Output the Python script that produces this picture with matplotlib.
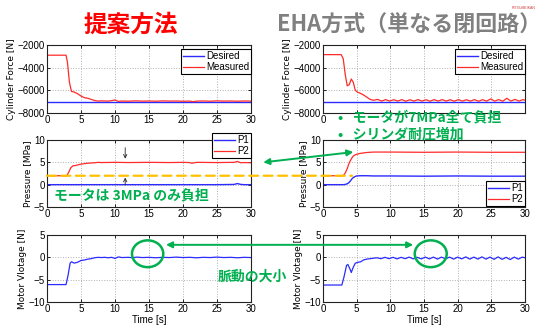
import numpy as np
import matplotlib
matplotlib.use("Agg")
import matplotlib.pyplot as plt
from matplotlib.patches import ConnectionPatch, Ellipse

# ---- data ----
# 提案方法 (left column)
t_force_l = [0, 2.8, 3.0, 3.3, 3.6, 4.0, 4.5, 5.0, 5.5, 6.0, 6.5, 7.0, 7.5, 8.0, 9.0, 9.6, 10.0,
             10.5, 11.0, 12.0, 13.0, 14.0, 15.0, 16.0, 17.0, 18.0, 19.0, 20.0, 21.0, 21.5, 22.0,
             23.0, 24.0, 25.0, 26.0, 27.0, 28.0, 29.0, 30.0]
force_meas_l = [-2900, -2900, -3500, -5300, -6100, -6150, -6300, -6500, -6650, -6700, -6800, -6900,
                -6950, -6930, -6950, -6900, -6850, -6980, -6940, -6960, -6930, -6950, -6940, -6960,
                -6930, -6950, -6940, -6960, -6950, -7000, -6950, -6940, -6960, -6930, -6950, -6940,
                -6960, -6940, -6950]
force_des = -7000

t_pres_l = [0, 2.9, 3.2, 3.5, 3.8, 4.2, 5.0, 6.0, 7.0, 7.5, 8.0, 10.0, 12.0, 15.0, 18.0, 20.0,
            21.0, 21.3, 22.0, 25.0, 27.5, 28.0, 28.5, 29.0, 30.0]
p2_l = [2.0, 2.0, 2.8, 3.8, 4.2, 4.3, 4.6, 4.8, 4.9, 5.0, 4.95, 5.0, 4.95, 5.0, 4.95, 5.0,
        4.95, 4.8, 5.0, 4.95, 5.0, 5.2, 4.9, 4.95, 4.9]
p1_l = [0.0, 0.0, 0.0, 0.0, 0.0, 0.0, 0.0, 0.0, 0.0, 0.0, 0.0, 0.0, 0.0, 0.0, 0.0, 0.0,
        0.0, 0.0, 0.0, 0.0, 0.05, 0.25, 0.05, 0.0, 0.0]

t_volt_l = [0, 2.8, 3.1, 3.4, 3.6, 4.0, 4.5, 5.0, 5.5, 6.0, 6.5, 7.0, 7.5, 8.0, 8.5, 9.0, 9.5,
            10.0, 10.5, 11.0, 12.0, 12.6, 13.2, 14.0, 15.0, 16.0, 17.0, 18.0, 19.0, 20.0, 21.0,
            22.0, 23.0, 24.0, 25.0, 26.0, 27.0, 28.0, 29.0, 30.0]
volt_l = [-6.1, -6.1, -4.0, -1.3, -1.0, -1.3, -1.1, -0.7, -0.6, -0.4, -0.3, -0.1, 0.0, -0.05,
          0.0, -0.1, 0.0, -0.25, 0.1, -0.05, 0.0, -0.1, 0.05, -0.05, 0.0, -0.1, 0.0, -0.05,
          0.05, -0.05, 0.0, -0.1, 0.0, -0.05, 0.05, -0.05, 0.0, -0.1, 0.0, -0.05]

# EHA方式 (right column)
t_force_r = [0, 2.7, 3.0, 3.3, 3.6, 3.9, 4.2, 4.5, 4.8, 5.1, 5.5, 6.0, 6.5, 7.0, 7.5,
             8.1, 8.7, 9.3, 9.9, 10.5, 11.1, 11.7, 12.3, 12.9, 13.5, 14.1, 14.7, 15.3, 15.9,
             16.5, 17.1, 17.7, 18.3, 18.9, 19.5, 20.1, 20.7, 21.3, 21.9, 22.5, 23.1, 23.7,
             24.3, 24.9, 25.5, 26.1, 26.7, 27.3, 27.9, 28.5, 29.1, 29.7, 30.0]
force_meas_r = [-2850, -2850, -3200, -4600, -5600, -5500, -5000, -5300, -6000, -6150, -6250,
                -6400, -6600, -6800, -6880, -6800, -6950, -6820, -6950, -6830, -6950, -6820,
                -6960, -6830, -6950, -6820, -6950, -6830, -6960, -6820, -6950, -6820, -6950,
                -6830, -6960, -6820, -6950, -6830, -6950, -6820, -6960, -6830, -6950, -6760,
                -6950, -6820, -6960, -6700, -6950, -6800, -6950, -6820, -6870]

t_pres_r = [0, 3.0, 3.3, 3.6, 3.8, 4.0, 4.3, 4.5, 4.8, 5.0, 5.5, 6.5, 7.5, 10.0, 15.0, 20.0,
            25.0, 30.0]
p2_r = [2.0, 2.0, 2.6, 3.6, 4.5, 5.2, 6.0, 6.4, 6.7, 6.8, 7.0, 7.2, 7.3, 7.3, 7.25, 7.3,
        7.25, 7.25]
p1_r = [0.0, 0.0, 0.05, 0.2, 0.4, 0.7, 1.3, 1.6, 1.85, 1.95, 2.0, 2.0, 1.95, 1.95, 1.9, 1.95,
        1.9, 1.9]

t_volt_r = [0, 2.8, 3.1, 3.5, 3.7, 4.0, 4.2, 4.5, 4.8, 5.2, 5.6, 6.0, 6.5, 7.0, 7.5, 8.0,
            8.6, 9.2, 9.8, 10.4, 11.0, 11.6, 12.2, 12.8, 13.4, 14.0, 14.6, 15.2, 15.8, 16.4,
            17.0, 17.6, 18.2, 18.8, 19.4, 20.0, 20.6, 21.2, 21.8, 22.4, 23.0, 23.6, 24.2,
            24.8, 25.4, 26.0, 26.6, 27.2, 27.8, 28.4, 29.0, 29.6, 30.0]
volt_r = [-6.2, -6.2, -4.5, -1.8, -1.6, -2.6, -3.4, -2.2, -1.3, -1.1, -1.0, -0.6, -0.4, -0.3,
          -0.2, -0.1, -0.3, 0.0, -0.3, 0.0, -0.35, 0.0, -0.3, 0.05, -0.35, 0.0, -0.35, 0.05,
          -0.35, 0.05, -0.4, 0.05, -0.35, 0.05, -0.4, 0.05, -0.35, 0.1, -0.4, 0.05, -0.4,
          0.1, -0.4, 0.05, -0.45, 0.1, -0.45, 0.0, -0.5, 0.05, -0.4, 0.05, -0.1]

x_ticks = [0, 5, 10, 15, 20, 25, 30]
force_ticks = [-8000, -6000, -4000, -2000]
pres_ticks = [-5, 0, 5, 10]
volt_ticks = [-10, -5, 0, 5]

# ---- style ----
JP = ['Noto Sans CJK JP', 'DejaVu Sans']
plt.rcParams['font.family'] = ['Liberation Sans', 'DejaVu Sans']
plt.rcParams['font.size'] = 7
BLUE = '#2b2bff'
RED = '#ff2a2a'
GREEN = '#00b050'
ORANGE = '#ffc000'

W, H = 542, 327
fig = plt.figure(figsize=(W / 100, H / 100), dpi=100)
fig.patch.set_facecolor('white')


def box(x0, y0, x1, y1):
    return [x0 / W, 1 - y1 / H, (x1 - x0) / W, (y1 - y0) / H]


def fx(x, y):
    return x / W, 1 - y / H


def style(ax, yticks, ylabel, xlabel=None):
    ax.set_xlim(0, 30)
    ax.set_ylim(yticks[0], yticks[-1])
    ax.set_xticks(x_ticks)
    ax.set_yticks(yticks)
    ax.grid(True, color='#b0b0b0', linestyle=':', linewidth=0.7)
    ax.tick_params(direction='in', length=2.5, width=0.6, labelsize=7, pad=1.5,
                   top=True, right=True)
    for s in ax.spines.values():
        s.set_linewidth(0.8)
        s.set_color('#222222')
    ax.set_ylabel(ylabel, fontsize=6.5, family='DejaVu Sans', labelpad=1)
    if xlabel:
        ax.set_xlabel(xlabel, fontsize=7, labelpad=0.5)


def legend(ax, loc, anchor):
    lg = ax.legend(loc=loc, bbox_to_anchor=anchor, borderaxespad=0, fontsize=7,
                   frameon=True, fancybox=False, framealpha=1, edgecolor='black',
                   handlelength=2.2, handletextpad=0.2, borderpad=0.2, labelspacing=0.1)
    lg.get_frame().set_linewidth(0.8)
    return lg


axes = {}
for col, (x0, x1) in {'l': (47, 251), 'r': (323, 525)}.items():
    axes[col + 'f'] = fig.add_axes(box(x0, 45, x1, 113))
    axes[col + 'p'] = fig.add_axes(box(x0, 140, x1, 207))
    axes[col + 'v'] = fig.add_axes(box(x0, 235, x1, 302))

# cylinder force
for col, t, m in [('l', t_force_l, force_meas_l), ('r', t_force_r, force_meas_r)]:
    ax = axes[col + 'f']
    ax.plot([0, 30], [force_des, force_des], color=BLUE, lw=1.0, label='Desired')
    ax.plot(t, m, color=RED, lw=0.9, label='Measured')
    style(ax, force_ticks, 'Cylinder Force [N]')
    legend(ax, 'upper right', (1.0, 0.94))
# the bullet text covers the x tick labels of the right force plot
axes['rf'].set_xticklabels(['0', '', '', '', '', '', ''])

# pressure
for col, t, p1, p2 in [('l', t_pres_l, p1_l, p2_l), ('r', t_pres_r, p1_r, p2_r)]:
    ax = axes[col + 'p']
    ax.plot(t, p1, color=BLUE, lw=1.0, label='P1')
    ax.plot(t, p2, color=RED, lw=0.9, label='P2')
    style(ax, pres_ticks, 'Pressure [MPa]')
legend(axes['lp'], 'upper right', (1.0, 1.10))
legend(axes['rp'], 'lower right', (1.0, 0.015))

# motor voltage
for col, t, v in [('l', t_volt_l, volt_l), ('r', t_volt_r, volt_r)]:
    ax = axes[col + 'v']
    ax.plot(t, v, color=BLUE, lw=0.9)
    style(ax, volt_ticks, 'Motor Vlotage [N]', 'Time [s]')

# ---- titles ----
fig.text(*fx(131, 25), '提案方法', color='#ff0000', fontsize=17, fontweight='bold',
         family=JP, ha='center', va='center')
fig.text(*fx(409, 25), 'EHA方式（単なる閉回路）', color='#808080', fontsize=15.8,
         fontweight='bold', family=JP, ha='center', va='center')
fig.text(*fx(524, 8), 'RITSUMEIKAN', color='#d04040', fontsize=2.5, ha='center', va='center')

# ---- annotations ----
lp, rp, lv, rv = axes['lp'], axes['rp'], axes['lv'], axes['rv']

# 2 MPa dashed line across both columns
fig.add_artist(ConnectionPatch((0, 2), (4.3, 2), coordsA=lp.transData, coordsB=rp.transData,
                               color=ORANGE, lw=1.6, linestyle=(0, (4, 2.5)), zorder=1))

# small black arrows marking 3 MPa
lp.annotate('', xy=(11.5, 5.2), xytext=(11.5, 8.9),
            arrowprops=dict(arrowstyle='->', color='#222222', lw=0.6, mutation_scale=6))
lp.annotate('', xy=(11.5, 2.2), xytext=(11.5, -0.7),
            arrowprops=dict(arrowstyle='->', color='#222222', lw=0.6, mutation_scale=6))

# green double arrows
fig.add_artist(ConnectionPatch((31.8, 5.0), (4.5, 7.3), coordsA=lp.transData,
                               coordsB=rp.transData, arrowstyle='<|-|>', color=GREEN, lw=1.4,
                               mutation_scale=9, zorder=5))
fig.add_artist(ConnectionPatch((17.5, 2.8), (13.4, 2.8), coordsA=lv.transData,
                               coordsB=rv.transData, arrowstyle='<|-|>', color=GREEN, lw=1.4,
                               mutation_scale=9, zorder=5))

# circles around the ripple
lv.add_patch(Ellipse((14.8, 0.8), 4.6, 6.0, fill=False, edgecolor=GREEN, lw=1.8,
                     clip_on=False, zorder=6))
rv.add_patch(Ellipse((16.0, 0.8), 4.75, 6.0, fill=False, edgecolor=GREEN, lw=1.8,
                     clip_on=False, zorder=6))

fig.text(*fx(54, 195), 'モータは 3MPa のみ負担', color=GREEN, fontsize=10, fontweight='bold',
         family=JP, ha='left', va='center')
fig.text(*fx(338, 117), '•   モータが7MPa全て負担', color=GREEN, fontsize=10,
         fontweight='bold', family=JP, ha='left', va='center')
fig.text(*fx(338, 134), '•   シリンダ耐圧増加', color=GREEN, fontsize=10,
         fontweight='bold', family=JP, ha='left', va='center')
fig.text(*fx(218, 277), '脈動の大小', color=GREEN, fontsize=10, fontweight='bold',
         family=JP, ha='left', va='center')

fig.savefig('out.png', dpi=100)
